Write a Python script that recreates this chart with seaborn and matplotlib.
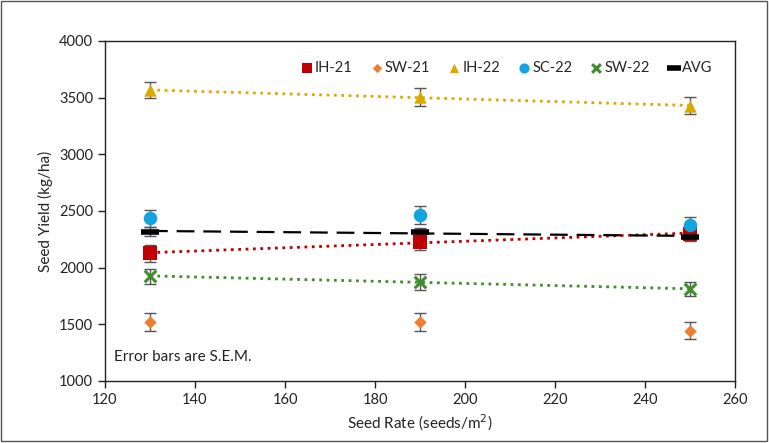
import numpy as np
import pandas as pd
import matplotlib.pyplot as plt
import seaborn as sns
from matplotlib.patches import Rectangle

# data
seed_rate = [130, 190, 250]
series = ["IH-21", "SW-21", "IH-22", "SC-22", "SW-22", "AVG"]
ih21 = [2127, 2229, 2300]
sw21 = [1523, 1518, 1444]
ih22 = [3566, 3503, 3429]
sc22 = [2436, 2465, 2374]
sw22 = [1926, 1873, 1812]
avg = [2316, 2318, 2272]
sem_ih21 = [75, 70, 60]
sem_sw21 = [78, 78, 78]
sem_ih22 = [73, 78, 73]
sem_sc22 = [77, 76, 75]
sem_sw22 = [66, 70, 60]
sem_avg = [40, 33, 40]

yields = [ih21, sw21, ih22, sc22, sw22, avg]
sems = [sem_ih21, sem_sw21, sem_ih22, sem_sc22, sem_sw22, sem_avg]
colors = ["#C00000", "#ED7D31", "#DDA800", "#12A4E0", "#3E8E2A", "#000000"]
markers = ["s", "D", "^", "o", "x", "_"]
msizes = [100, 40, 80, 95, 70, 160]
trend = {"IH-21": ":", "IH-22": ":", "SW-22": ":", "AVG": (0, (8, 4))}

df = pd.DataFrame({
    "rate": np.tile(seed_rate, len(series)),
    "yield": np.concatenate(yields),
    "sem": np.concatenate(sems),
    "series": np.repeat(series, len(seed_rate)),
})

sns.set_style("white")
plt.rcParams["font.family"] = ["Lato", "DejaVu Sans"]

fig = plt.figure(figsize=(7.69, 4.43), dpi=100)
ax = fig.add_axes([0.1365, 0.14, 0.8195, 0.7675])

# trend lines
for name, color in zip(series, colors):
    if name in trend:
        sub = df[df["series"] == name]
        sns.regplot(data=sub, x="rate", y="yield", ax=ax, scatter=False, ci=None,
                    truncate=True, color=color,
                    line_kws={"linestyle": trend[name], "linewidth": 2 if name != "AVG" else 1.6,
                              "zorder": 2})

# error bars
ax.errorbar(df["rate"], df["yield"], yerr=df["sem"], fmt="none", ecolor="#555555",
            elinewidth=1, capsize=4, capthick=1, zorder=3)

# markers
for name, color, m, s in zip(series, colors, markers, msizes):
    sub = df[df["series"] == name]
    kw = {"linewidth": 0}
    if m == "x":
        kw["linewidth"] = 2.2
    if m == "_":
        kw["linewidth"] = 4
    sns.scatterplot(data=sub, x="rate", y="yield", ax=ax, color=color, marker=m, s=s,
                    label=name, zorder=4, **kw)

ax.set_xlim(120, 260)
ax.set_ylim(1000, 4000)
ax.set_xticks(range(120, 261, 20))
ax.set_yticks(range(1000, 4001, 500))
ax.set_xlabel("Seed Rate (seeds/m$^2$)", fontsize=11, color="#222222")
ax.set_ylabel("Seed Yield (kg/ha)", fontsize=11, color="#222222")
ax.tick_params(axis="both", direction="out", length=5, width=1, labelsize=10.5,
               bottom=True, left=True, colors="#222222")
for sp in ax.spines.values():
    sp.set_color("#222222")
    sp.set_linewidth(1)

ax.text(0.015, 0.07, "Error bars are S.E.M.", transform=ax.transAxes, fontsize=11,
        ha="left", va="center", color="#222222")

ax.legend(loc="center", bbox_to_anchor=(0.638, 0.92), ncol=6, frameon=False,
          fontsize=10.5, handlelength=0.7, handletextpad=0.2, columnspacing=1.3,
          markerscale=0.75, borderpad=0.2)

fig.patches.append(Rectangle((0.001, 0.004), 0.996, 0.994, transform=fig.transFigure,
                             fill=False, edgecolor="#555555", linewidth=1))

fig.savefig("out.png", dpi=100)
